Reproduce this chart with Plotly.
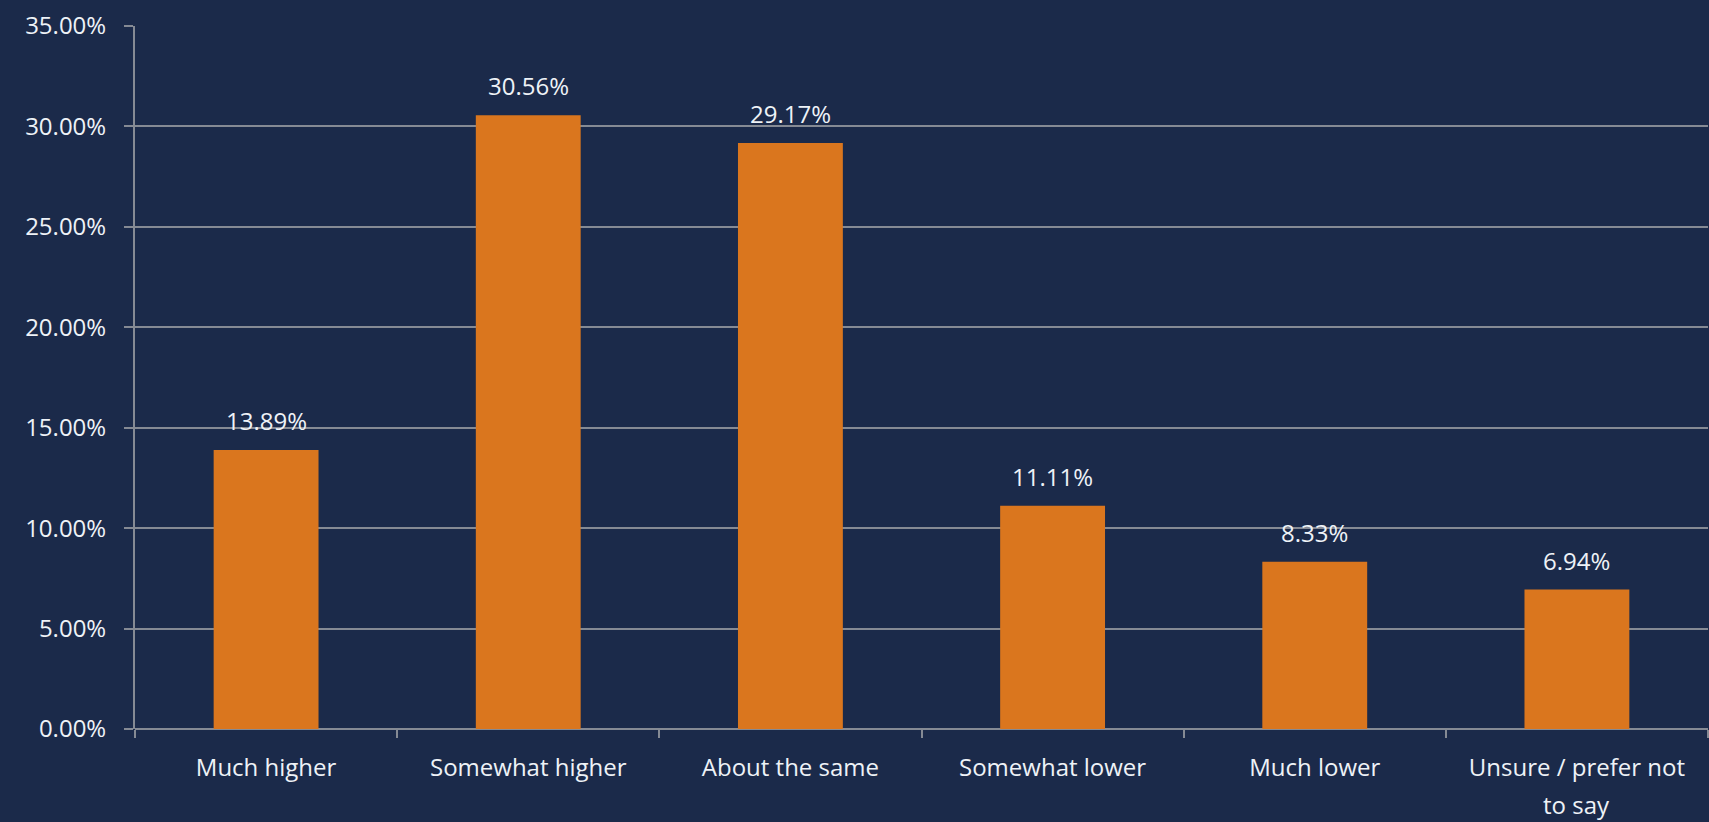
import plotly.graph_objects as go

categories = ["Much higher", "Somewhat higher", "About the same",
              "Somewhat lower", "Much lower", "Unsure / prefer not to say"]
tick_lines = ["Much higher", "Somewhat higher", "About the same",
              "Somewhat lower", "Much lower", "Unsure / prefer not"]
extra_line = "to say"
values = [13.89, 30.56, 29.17, 11.11, 8.33, 6.94]
y_ticks = [0, 5, 10, 15, 20, 25, 30, 35]

BG = "#1b2a4a"
BAR = "#da761e"
GRID = "#858a94"
TXT = "#eef2f7"
FONT = "Open Sans"
FS = 24

fig = go.Figure()
fig.add_trace(go.Bar(
    x=categories, y=values, marker=dict(color=BAR, line=dict(width=0)),
    width=0.4, hoverinfo="skip",
))

for c, v in zip(categories, values):
    fig.add_annotation(x=c, y=v, text=f"{v:.2f}%", showarrow=False,
                       yanchor="bottom", yshift=11,
                       font=dict(family=FONT, size=FS, color=TXT))

# second line of the last category label
fig.add_annotation(x=categories[-1], y=0, yref="paper", text=extra_line,
                   showarrow=False, yanchor="top", yshift=-57,
                   font=dict(family=FONT, size=FS, color=TXT))

fig.update_layout(
    width=1709, height=822,
    paper_bgcolor=BG, plot_bgcolor=BG,
    margin=dict(l=135, r=1, t=26, b=93),
    showlegend=False,
    bargap=0.6,
    font=dict(family=FONT, size=FS, color=TXT),
)
fig.update_xaxes(
    type="category", tickson="boundaries", ticks="outside", ticklen=8,
    tickcolor=GRID, tickwidth=2, showgrid=False, showline=False,
    zeroline=False, tickfont=dict(family=FONT, size=FS, color=TXT),
    tickvals=categories, ticktext=tick_lines,
    ticklabelstandoff=22,
)
fig.update_yaxes(
    range=[0, 35], tickvals=y_ticks, ticktext=[f"{t:.2f}%" for t in y_ticks],
    showgrid=True, gridcolor=GRID, gridwidth=2,
    ticks="outside", ticklen=9, tickcolor=GRID, tickwidth=2,
    showline=True, linecolor=GRID, linewidth=2,
    zeroline=True, zerolinecolor=GRID, zerolinewidth=2,
    tickfont=dict(family=FONT, size=FS, color=TXT),
    ticklabelstandoff=13,
)

fig.write_html("out.html")
